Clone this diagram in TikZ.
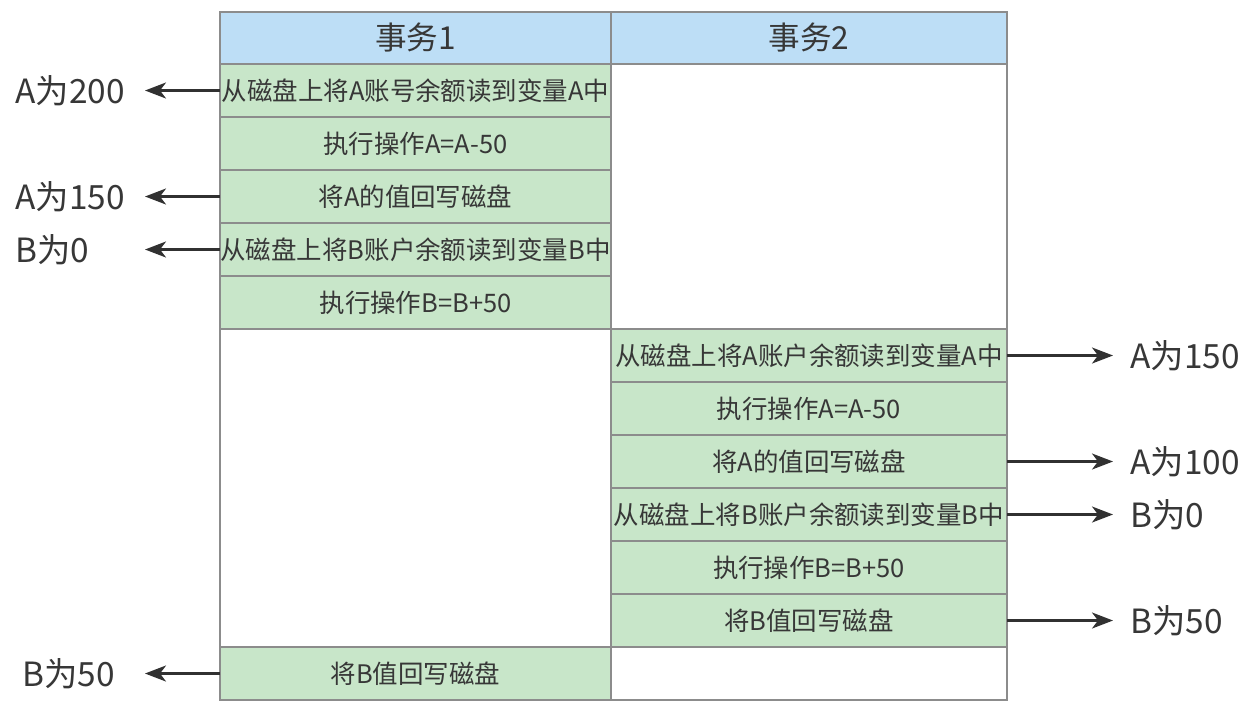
\documentclass[tikz,border=0pt]{standalone}
\usepackage{fontspec}
\setmainfont{Noto Sans CJK SC}
\usetikzlibrary{positioning,arrows.meta}
\definecolor{txHead}{RGB}{189,222,246}
\definecolor{txStep}{RGB}{200,230,201}
\definecolor{txEdge}{RGB}{140,140,140}
\definecolor{txText}{RGB}{55,55,55}
\tikzset{
    base/.style={font=\fontsize{14.5}{16}\selectfont, text=txText, align=center},
    head/.style={base, font=\fontsize{18}{20}\selectfont, rectangle, draw=txEdge,
                 line width=0.8pt, fill=txHead, minimum height=1.04cm, outer sep=0pt},
    stepA/.style={base, rectangle, draw=txEdge, line width=0.8pt, fill=txStep,
                  minimum width=7.82cm, minimum height=1.06cm, inner sep=0pt, outer sep=0pt},
    stepB/.style={stepA, minimum width=7.92cm},
    gapA/.style={stepA, fill=white},
    gapB/.style={stepB, fill=white},
    val/.style={font=\fontsize{19}{21}\selectfont, text=txText, inner sep=0pt},
    flow/.style={-{Stealth[length=4.2mm, width=3.2mm, inset=1.2mm]}, line width=1.3pt, color=txText!90!black}
}

\begin{document}
\begin{tikzpicture}
  \useasboundingbox (0,0) rectangle (25.18,-14.42);
  % column heads
  \node[head, minimum width=7.82cm, anchor=north west] (h1) at (4.4,-0.24) {事务1};
  \node[head, minimum width=7.92cm, right=0pt of h1] (h2) {事务2};

  % transaction 1
  \node[stepA, below=0pt of h1] (a1) {从磁盘上将A账号余额读到变量A中};
  \node[stepA, below=0pt of a1] (a2) {执行操作A=A-50};
  \node[stepA, below=0pt of a2] (a3) {将A的值回写磁盘};
  \node[stepA, below=0pt of a3] (a4) {从磁盘上将B账户余额读到变量B中};
  \node[stepA, below=0pt of a4] (a5) {执行操作B=B+50};
  \node[gapA, minimum height=6.36cm, below=0pt of a5] (a0) {};
  \node[stepA, below=0pt of a0] (a6) {将B值回写磁盘};

  % transaction 2
  \node[gapB, minimum height=5.3cm, below=0pt of h2] (b0) {};
  \node[stepB, below=0pt of b0] (b1) {从磁盘上将A账户余额读到变量A中};
  \node[stepB, below=0pt of b1] (b2) {执行操作A=A-50};
  \node[stepB, below=0pt of b2] (b3) {将A的值回写磁盘};
  \node[stepB, below=0pt of b3] (b4) {从磁盘上将B账户余额读到变量B中};
  \node[stepB, below=0pt of b4] (b5) {执行操作B=B+50};
  \node[stepB, below=0pt of b5] (b6) {将B值回写磁盘};
  \node[gapB, below=0pt of b6] (b7) {};

  % values read and written
  \coordinate (tipL) at (2.9,0);
  \coordinate (tipR) at (22.26,0);
  \coordinate (valL) at (0.3,0);
  \coordinate (valR) at (22.6,0);
  \node[val, anchor=west] (va1) at (valL |- a1) {A为200};
  \node[val, anchor=west] (va3) at (valL |- a3) {A为150};
  \node[val, anchor=west] (va4) at (valL |- a4) {B为0};
  \node[val, anchor=west] (va6) at ([xshift=0.14cm]valL |- a6) {B为50};
  \draw[flow] (a1.west) -- (tipL |- a1.west);
  \draw[flow] (a3.west) -- (tipL |- a3.west);
  \draw[flow] (a4.west) -- (tipL |- a4.west);
  \draw[flow] (a6.west) -- (tipL |- a6.west);

  \node[val, anchor=west] (vb1) at (valR |- b1) {A为150};
  \node[val, anchor=west] (vb3) at (valR |- b3) {A为100};
  \node[val, anchor=west] (vb4) at (valR |- b4) {B为0};
  \node[val, anchor=west] (vb6) at (valR |- b6) {B为50};
  \draw[flow] (b1.east) -- (tipR |- b1.east);
  \draw[flow] (b3.east) -- (tipR |- b3.east);
  \draw[flow] (b4.east) -- (tipR |- b4.east);
  \draw[flow] (b6.east) -- (tipR |- b6.east);
\end{tikzpicture}
\end{document}
